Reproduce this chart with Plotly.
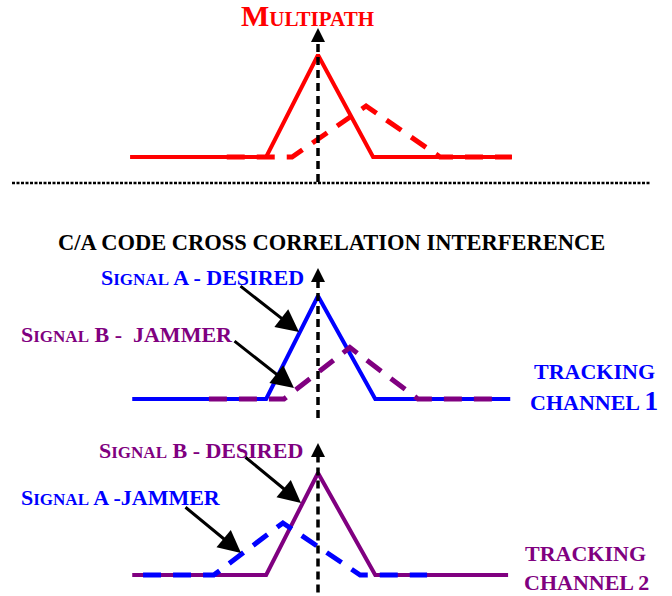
import plotly.graph_objects as go

# ---------------- data (delay in chips, normalised correlation amplitude) ----------------
# Multipath panel
mp_direct_delay = [-3.48, -0.96, 0.0, 1.02, 3.59]
mp_direct_amp = [0, 0, 1.0, 0, 0]
mp_reflect_delay = [-1.69, -0.48, 0.89, 2.26, 3.59]
mp_reflect_amp = [0, 0, 0.5, 0, 0]

# Tracking channel 1: signal A desired, signal B jammer
ch1_a_delay = [-3.44, -0.96, 0.0, 1.06, 3.56]
ch1_a_amp = [0, 0, 1.0, 0, 0]
ch1_b_delay = [-2.02, -0.63, 0.59, 1.85, 3.31]
ch1_b_amp = [0, 0, 0.5, 0, 0]

# Tracking channel 2: signal B desired, signal A jammer
ch2_b_delay = [-3.44, -0.96, 0.0, 1.06, 3.52]
ch2_b_amp = [0, 0, 1.0, 0, 0]
ch2_a_delay = [-3.24, -1.93, -0.65, 0.78, 2.02]
ch2_a_amp = [0, 0, 0.51, 0, 0]

# prompt (zero-delay) reference arrows: [bottom, tip] amplitude per panel
prompt_delay = [0.0, 0.0]
mp_prompt_amp = [-0.245, 1.265]
ch1_prompt_amp = [-0.184, 1.272]
ch2_prompt_amp = [-0.30, 1.294]

# ---------------- styling / layout ----------------
W, H = 672, 596
X0, CHIP = 318.0, 54.0          # pixel of zero delay, pixels per chip
RED, BLUE, PURPLE, BLACK = "#FF0000", "#0000FF", "#800080", "#000000"
FONT = "Liberation Serif"
DASH = "18px,12px"


def yr(base_px, unit_px):
    return [(base_px - H) / unit_px, base_px / unit_px]


fig = go.Figure()


def corr(x, y, color, dashed, yaxis):
    fig.add_trace(go.Scatter(
        x=x, y=y, mode="lines", yaxis=yaxis, hoverinfo="skip",
        line=dict(color=color, width=5 if dashed else 4, dash=DASH if dashed else "solid"),
    ))


def prompt(amp, yaxis):
    fig.add_trace(go.Scatter(
        x=prompt_delay, y=[amp[0], amp[1] - 0.1], mode="lines", yaxis=yaxis, hoverinfo="skip",
        line=dict(color=BLACK, width=3.5, dash="8px,5px"),
    ))
    fig.add_trace(go.Scatter(
        x=[prompt_delay[1]], y=[amp[1]], mode="markers", yaxis=yaxis, hoverinfo="skip",
        marker=dict(symbol="arrow-up", size=14, color=BLACK, line=dict(width=0)),
    ))


corr(mp_direct_delay, mp_direct_amp, RED, False, "y")
corr(mp_reflect_delay, mp_reflect_amp, RED, True, "y")
prompt(mp_prompt_amp, "y")

corr(ch1_a_delay, ch1_a_amp, BLUE, False, "y2")
corr(ch1_b_delay, ch1_b_amp, PURPLE, True, "y2")
prompt(ch1_prompt_amp, "y2")

corr(ch2_b_delay, ch2_b_amp, PURPLE, False, "y3")
corr(ch2_a_delay, ch2_a_amp, BLUE, True, "y3")
prompt(ch2_prompt_amp, "y3")


def P(px, py):
    return px / W, 1 - py / H


annotations = []


def text(t, px, py, color, size, xanchor="center"):
    x, y = P(px, py)
    annotations.append(dict(
        text=t, x=x, y=y, xref="paper", yref="paper", xanchor=xanchor, yanchor="middle",
        showarrow=False, borderpad=0,
        font=dict(family=FONT, size=size, color=color, weight="bold"),
    ))


def sc(word, size=17):
    return f"{word[0]}<span style='font-size:{size}px'>{word[1:]}</span>"


def arrow(tail, tip):
    x, y = P(*tip)
    annotations.append(dict(
        text="", x=x, y=y, xref="paper", yref="paper",
        ax=tail[0] - tip[0], ay=tail[1] - tip[1], axref="pixel", ayref="pixel",
        showarrow=True, arrowhead=2, arrowsize=1.5, arrowwidth=3, arrowcolor=BLACK, standoff=0,
    ))


text(sc("MULTIPATH", 21), 307, 16, RED, 30)
text("C/A CODE CROSS CORRELATION INTERFERENCE", 331, 243, BLACK, 22.5)

text(sc("SIGNAL") + " A - DESIRED", 100, 277, BLUE, 22, "left")
text(sc("SIGNAL") + " B -\u00a0 JAMMER", 20, 334, PURPLE, 22, "left")
text("TRACKING", 594, 371, BLUE, 22)
text("CHANNEL <span style='font-size:28px'>1</span>", 594, 401, BLUE, 22)
arrow((239, 285), (299, 332))
arrow((233, 340), (294, 388))

text(sc("SIGNAL") + " B - DESIRED", 98, 450, PURPLE, 22, "left")
text(sc("SIGNAL") + " A -JAMMER", 20, 497, BLUE, 22, "left")
text("TRACKING", 585, 553, PURPLE, 22)
text("CHANNEL 2", 586, 582, PURPLE, 22)
arrow((244, 456), (301, 503))
arrow((184, 506), (241, 553))

shapes = [dict(type="line", xref="paper", yref="paper",
               x0=12 / W, x1=650 / W, y0=1 - 183 / H, y1=1 - 183 / H,
               line=dict(color=BLACK, width=2.5, dash="3px,1.5px"))]

hidden = dict(visible=False, fixedrange=True)
fig.update_layout(
    width=W, height=H, margin=dict(l=0, r=0, t=0, b=0),
    paper_bgcolor="white", plot_bgcolor="white", showlegend=False,
    xaxis=dict(range=[-X0 / CHIP, (W - X0) / CHIP], domain=[0, 1], **hidden),
    yaxis=dict(range=yr(157, 102), domain=[0, 1], **hidden),
    yaxis2=dict(range=yr(399, 103), overlaying="y", **hidden),
    yaxis3=dict(range=yr(575, 102), overlaying="y", **hidden),
    annotations=annotations, shapes=shapes,
)

fig.write_html("out.html", config={"displayModeBar": False},
               post_script="document.body.style.margin='0px';")
